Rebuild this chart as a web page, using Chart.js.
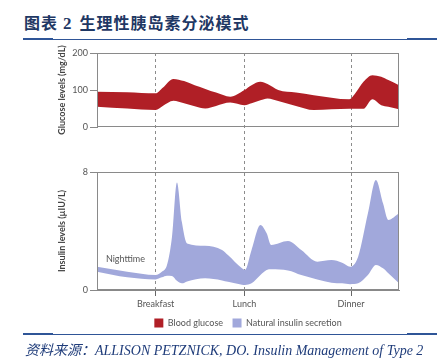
<!DOCTYPE html>
<html>
<head>
<meta charset="utf-8">
<script src="https://cdn.jsdelivr.net/npm/chart.js@4/dist/chart.umd.min.js"></script>
<style>
  body { margin: 0; width: 445px; height: 360px; background: #fff; position: relative; overflow: hidden; }
  #title { position: absolute; left: 24px; top: 10px; font: bold 16px "Noto Sans CJK SC"; color: #1f3864; letter-spacing: 1px; white-space: nowrap; }
  #title b { font-family: "Liberation Serif"; font-size: 17px; margin: 0 7px 0 5px; }
  .rule { position: absolute; left: 23px; width: 414px; height: 1px; background: #2f5597; }
  .rule::before, .rule::after { content: ""; position: absolute; top: -1px; width: 30px; height: 2px; background: #2f5597; }
  .rule::before { left: 0; }
  .rule::after { right: 0; }
  #src { position: absolute; left: 25px; top: 339px; font: italic 14px "Liberation Serif", "Noto Sans CJK SC"; color: #1f3c7a; white-space: nowrap; }
  canvas { position: absolute; left: 0; top: 0; }
</style>
</head>
<body>
<div id="title">图表<b>2</b>生理性胰岛素分泌模式</div>
<div class="rule" style="top:39px"></div>
<canvas id="chart" width="445" height="360"></canvas>
<div class="rule" style="top:334px"></div>
<div id="src">资料来源：ALLISON PETZNICK, DO. Insulin Management of Type 2</div>
<script>
// time of day in hours
const mealHours = [7, 12, 18];
const mealNames = ['Breakfast', 'Lunch', 'Dinner'];
const glucoseTicks = [0, 100, 200];
const insulinTicks = [0, 8];

const glucoseHours = [3.7, 5.4, 7.0, 7.4, 8.0, 8.6, 9.2, 9.8, 10.4, 11.2, 12.0, 12.4, 12.9, 13.3, 13.9, 14.9, 15.9, 17.9, 18.3, 18.7, 19.2, 19.7, 20.1, 20.7];
const glucoseHigh = [95, 94, 91, 106, 130, 124, 113, 103, 93, 82, 100, 113, 122, 116, 100, 93, 86, 75, 95, 122, 140, 136, 127, 113];
const glucoseLow = [55, 50, 46, 57, 71, 64, 56, 50, 57, 66, 59, 64, 72, 77, 70, 57, 46, 49, 49, 49, 75, 59, 55, 48];

const insulinHours = [3.7, 5.4, 7.0, 7.35, 7.64, 7.92, 8.2, 8.48, 8.77, 9.78, 10.74, 11.07, 11.86, 12.03, 12.4, 12.9, 13.25, 13.5, 14.45, 15.2, 16.1, 16.9, 17.5, 17.95, 18.4, 18.95, 19.4, 19.8, 20.1, 20.7];
const insulinHigh = [1.58, 1.24, 1.02, 1.24, 1.70, 3.6, 7.28, 4.6, 3.16, 3.0, 2.71, 2.37, 1.47, 1.36, 2.71, 4.41, 3.84, 3.05, 3.32, 2.71, 1.92, 2.03, 1.85, 1.58, 2.26, 5.2, 7.46, 5.88, 4.75, 5.2];
const insulinLow = [1.24, 0.86, 0.72, 0.86, 0.97, 0.95, 0.62, 0.45, 0.58, 0.79, 0.65, 0.56, 0.36, 0.34, 0.45, 1.02, 1.36, 1.40, 1.33, 1.02, 0.72, 0.50, 0.45, 0.39, 0.45, 1.02, 1.70, 1.47, 1.13, 0.45];

const nightLabel = 'Nighttime';

const RED = '#b01f26';
const BLUE = '#a1a8db';
const FONT = 'Lato';

const pts = (xs, ys) => xs.map((x, i) => ({ x: x, y: ys[i] }));

function band(label, xs, ys, axis, color, fill) {
    return {
        label: label,
        data: pts(xs, ys),
        yAxisID: axis,
        backgroundColor: color,
        borderColor: color,
        borderWidth: 0,
        pointRadius: 0,
        fill: fill,
        cubicInterpolationMode: 'monotone'
    };
}

// boxes round both panels + the Nighttime note
const panels = {
    id: 'panels',
    afterDatasetsDraw(chart) {
        const { ctx, chartArea: a, scales } = chart;
        ctx.save();
        ctx.strokeStyle = '#8a8a8a';
        ctx.lineWidth = 1;
        [scales.yGlu, scales.yIns].forEach(s => {
            ctx.strokeRect(Math.round(a.left) + 0.5, Math.round(s.top) + 0.5,
                Math.round(a.right - a.left) - 1, Math.round(s.bottom - s.top) - 1);
        });
        ctx.fillStyle = '#555';
        ctx.font = '9px ' + FONT;
        ctx.textBaseline = 'middle';
        ctx.fillText(nightLabel, scales.x.getPixelForValue(4.2), scales.yIns.getPixelForValue(2.1));
        ctx.restore();
    }
};

const sideAxis = (weight, lo, hi, ticks, title) => ({
    type: 'linear',
    position: 'left',
    stack: 'v',
    stackWeight: weight,
    min: lo,
    max: hi,
    afterBuildTicks: s => { s.ticks = ticks.map(v => ({ value: v })); },
    afterFit: s => { s.width = 97; },
    ticks: { color: '#555', font: { family: FONT, size: 9 }, padding: 2 },
    grid: { drawOnChartArea: false, tickLength: 7, tickColor: '#888' },
    border: { color: '#888' },
    title: {
        display: true, text: title, color: '#444',
        font: { family: FONT, size: 9, weight: 'bold' },
        padding: { top: 57, bottom: 0 }
    }
});

const ctx = document.getElementById('chart').getContext('2d');
const chart = new Chart(ctx, {
    type: 'line',
    data: {
        datasets: [
            band('Blood glucose', glucoseHours, glucoseHigh, 'yGlu', RED, '+1'),
            band('', glucoseHours, glucoseLow, 'yGlu', RED, false),
            band('Natural insulin secretion', insulinHours, insulinHigh, 'yIns', BLUE, '+1'),
            band('', insulinHours, insulinLow, 'yIns', BLUE, false)
        ]
    },
    options: {
        responsive: false,
        animation: false,
        layout: { padding: { left: 0, right: 46, top: 53, bottom: 22.5 } },
        plugins: {
            tooltip: { enabled: false },
            legend: {
                position: 'bottom',
                fullSize: false,
                labels: {
                    filter: item => !!item.text,
                    boxWidth: 9,
                    boxHeight: 9,
                    padding: 9.5,
                    color: '#555',
                    font: { family: FONT, size: 9 }
                }
            }
        },
        scales: {
            x: {
                type: 'linear',
                min: 3.7,
                max: 20.7,
                afterBuildTicks: s => { s.ticks = mealHours.map(v => ({ value: v })); },
                afterFit: s => { s.height = 19; },
                ticks: {
                    callback: v => mealNames[mealHours.indexOf(v)],
                    color: '#555',
                    font: { family: FONT, size: 9 },
                    padding: 3,
                    maxRotation: 0,
                    autoSkip: false
                },
                grid: { color: '#8c8c8c', tickColor: '#666', tickLength: 6 },
                border: { color: '#888', dash: [3, 3] }
            },
            yIns: sideAxis(118, 0, 8, insulinTicks, 'Insulin levels (µIU/L)'),
            ySpace: {
                position: 'left',
                stack: 'v',
                stackWeight: 45,
                afterFit: s => { s.width = 97; },
                ticks: { display: false },
                grid: { display: false },
                border: { display: false }
            },
            yGlu: sideAxis(74, 0, 200, glucoseTicks, 'Glucose levels (mg/dL)')
        }
    },
    plugins: [panels]
});
</script>
</body>
</html>
